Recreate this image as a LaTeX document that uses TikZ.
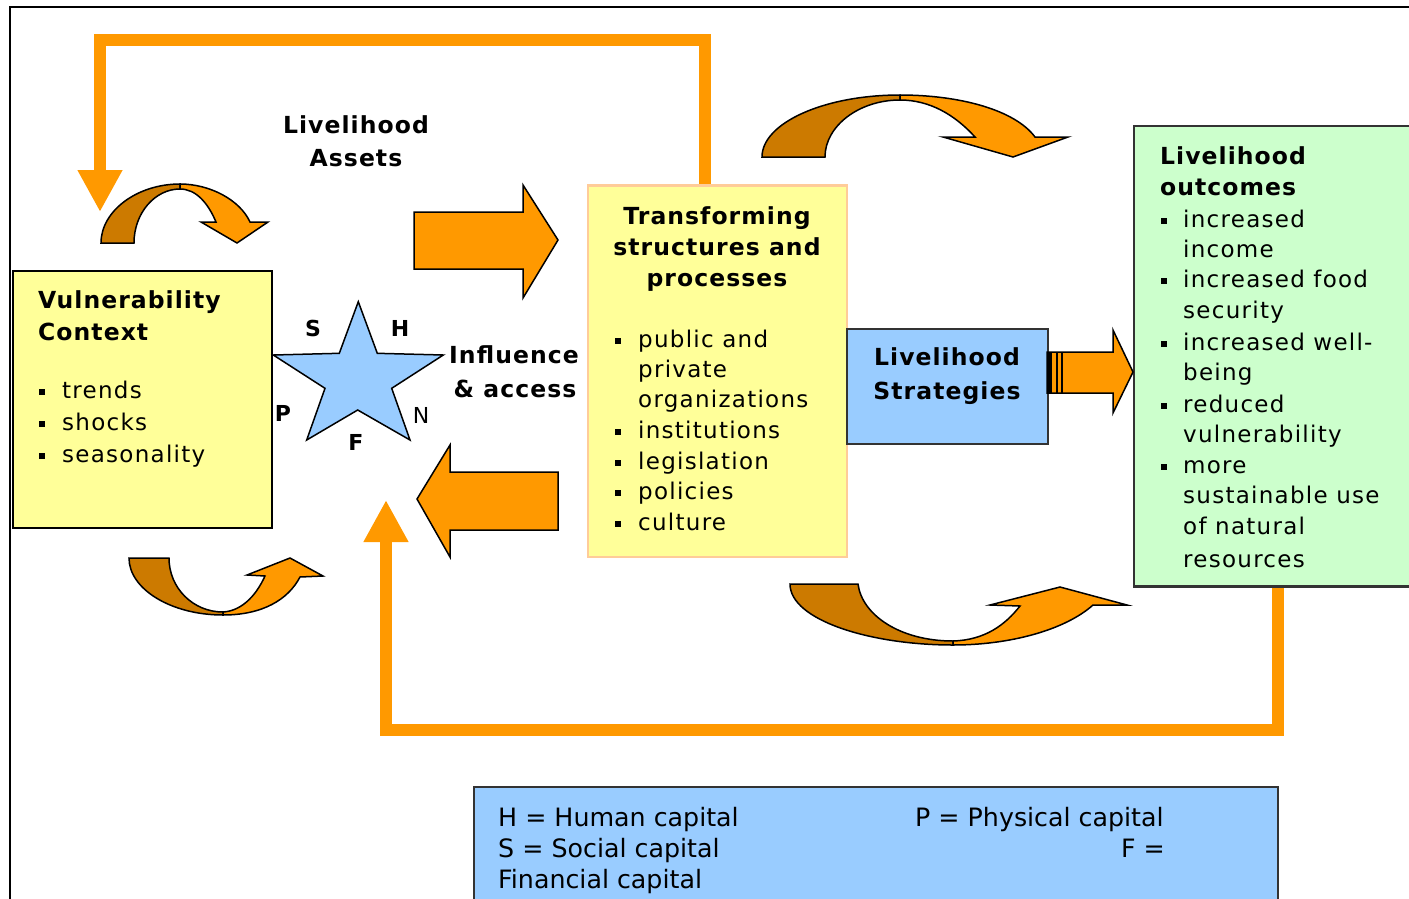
\documentclass[tikz,border=0pt]{standalone}
\usepackage{fontspec}
\setmainfont{DejaVu Sans}[LetterSpace=5.5,BoldFeatures={LetterSpace=4.5}]
\newfontfamily\legfont{DejaVu Sans}
\usetikzlibrary{arrows.meta}
\definecolor{org}{HTML}{FF9900}
\definecolor{dorg}{HTML}{CC7A00}
\definecolor{ylw}{HTML}{FFFF99}
\definecolor{lblue}{HTML}{99CCFF}
\definecolor{lgreen}{HTML}{CCFFCC}
\definecolor{peach}{HTML}{FFCC99}
\definecolor{edgec}{HTML}{333333}
\newcommand\bsq{\rule[3pt]{6pt}{6pt}}
\begin{document}
\begin{tikzpicture}[x=1pt,y=-1pt,
  box/.style={line width=2pt, inner sep=0pt, anchor=north west},
  t/.style={inner sep=0pt, anchor=base west, font=\fontsize{23}{28}\selectfont},
  tb/.style={inner sep=0pt, anchor=base west, font=\fontsize{23.5}{28}\selectfont\bfseries},
  tbc/.style={tb, anchor=base},
  lg/.style={inner sep=0pt, anchor=base west, font=\legfont\fontsize{25.3}{30}\selectfont},
  starlbl/.style={inner sep=0pt, font=\fontsize{22}{26}\selectfont\bfseries},
  bigarrow/.style={fill=org, draw=black, line width=1.5pt, line join=miter},
  curvdark/.style={fill=dorg, draw=black, line width=1.5pt, line join=miter},
  curvlight/.style={fill=org, draw=black, line width=1.5pt, line join=miter},
  loopline/.style={draw=org, line width=12pt, line join=miter, -{Triangle[length=42pt,width=42pt]}}
]
\useasboundingbox (0,0) rectangle (1409,898);
\fill[white] (0,0) rectangle (1409,898);
% frame
\draw[line width=2pt] (10,910) -- (10,7) -- (1420,7);

% boxes
\node[box, fill=ylw, draw=black, minimum width=259pt, minimum height=257pt] (vul) at (12,270) {};
\node[box, fill=ylw, draw=peach, minimum width=259pt, minimum height=371pt] (trans) at (587,185) {};
\node[box, fill=lgreen, draw=edgec, minimum width=300pt, minimum height=460pt] (outc) at (1133,125) {};
\node[box, fill=lblue, draw=edgec, minimum width=804pt, minimum height=140pt] (leg) at (473,786) {};

% loop lines
\coordinate (lt1) at (705,40);
\coordinate (lt2) at (100,40);
\coordinate (lt3) at (100,212);
\draw[loopline] (trans.north -| lt1) -- (lt1) -- (lt2) -- (lt3);
\coordinate (lb1) at (1278,730);
\coordinate (lb2) at (386,730);
\coordinate (lb3) at (386,500);
\draw[loopline] (outc.south -| lb1) -- (lb1) -- (lb2) -- (lb3);
% redraw box edges over the loop starts
\draw[peach, line width=2pt] (trans.north west) -- (trans.north east);
\draw[edgec, line width=2pt] (outc.south west) -- (outc.south east);

\node[box, fill=lblue, draw=edgec, minimum width=201pt, minimum height=115pt] (strat) at (846,328) {};

% big straight arrows
\draw[bigarrow] (414,212) -- (523,212) -- (523,185) -- (558,240) -- (523,298) -- (523,269) -- (414,269) -- cycle;
\draw[bigarrow] (558,472) -- (450,472) -- (450,445) -- (417,499) -- (450,557) -- (450,530) -- (558,530) -- cycle;
% strategies -> outcomes arrow
\draw[bigarrow] (1047,352) -- (1113,352) -- (1113,330) -- (1133,372) -- (1113,413) -- (1113,393) -- (1047,393) -- cycle;
\fill[black] (1048,352) rectangle (1052,393);
\fill[black] (1055.5,352) rectangle (1058,393);
\fill[black] (1060.5,352) rectangle (1063,393);

% star
\draw[fill=lblue, draw=black, line width=1.5pt, line join=miter]
  (358.3,301.7) -- (377.3,353.3) -- (443.3,355) -- (391.7,388.3) -- (410,440)
  -- (357.7,410) -- (306.7,440) -- (325,388.3) -- (273.3,355) -- (339.3,353.3) -- cycle;

% curved arrows: top-left
\draw[curvdark] (101,243) -- (134,243) .. controls (134,213) and (155,189) .. (180,189)
  -- (180,184) .. controls (137,184) and (101,211) .. (101,243) -- cycle;
\draw[curvlight] (180,184) .. controls (210,184) and (240,200) .. (250,222) -- (268,222)
  -- (237,243) -- (201,222) -- (216,222) .. controls (208,203) and (196,189) .. (180,189) -- cycle;
% top-right
\draw[curvdark] (762,157) -- (825,157) .. controls (825,126) and (859,100) .. (900,100)
  -- (900,95) .. controls (824,95) and (762,123) .. (762,157) -- cycle;
\draw[curvlight] (900,95) .. controls (960,95) and (1015,110) .. (1035,137) -- (1068,137)
  -- (1013,157) -- (943,137) -- (975,137) .. controls (955,115) and (930,100) .. (900,100) -- cycle;
% bottom-left
\draw[curvdark] (129,558) -- (169,558) .. controls (169,588) and (193,612) .. (223,612)
  -- (223,615) .. controls (171,615) and (129,589) .. (129,558) -- cycle;
\draw[curvlight] (223,615) .. controls (262,615) and (288,600) .. (300,577) -- (323,576)
  -- (290,558) -- (247,575) -- (265,576) .. controls (255,598) and (240,611) .. (223,612) -- cycle;
% bottom-right
\draw[curvdark] (790,584) -- (858,584) .. controls (862,615) and (900,641) .. (953,641)
  -- (953,645) .. controls (870,645) and (790,620) .. (790,584) -- cycle;
\draw[curvlight] (953,645) .. controls (1010,645) and (1065,630) .. (1093,605) -- (1127,605)
  -- (1060,587) -- (990,605) -- (1020,606) .. controls (1005,625) and (985,640) .. (953,641) -- cycle;

% texts
\node[tbc] (la1) at (356,133) {Livelihood};
\node[tbc] (la2) at (356,166) {Assets};

\node[tb] (vt1) at (38,308) {Vulnerability};
\node[tb] (vt2) at (38,340) {Context};
\node[t] (v1) at (39,398) {\makebox[23pt][l]{\bsq}trends};
\node[t] (v2) at (39,430) {\makebox[23pt][l]{\bsq}shocks};
\node[t] (v3) at (39,462) {\makebox[23pt][l]{\bsq}seasonality};

\node[starlbl] (sS) at (313,328) {S};
\node[starlbl] (sH) at (400,328) {H};
\node[starlbl] (sP) at (283,413) {P};
\node[inner sep=0pt, font=\fontsize{22}{26}\selectfont] (sN) at (421,415) {N};
\node[starlbl] (sF) at (356,442) {F};

\node[tbc] (inf1) at (514,363) {Influence};
\node[tbc] (inf2) at (515,397) {\&~access};

\node[tbc] (tt1) at (717,224) {Transforming};
\node[tbc] (tt2) at (717,255) {structures and};
\node[tbc] (tt3) at (717,286) {processes};
\node[t] (ti1) at (615,347) {\makebox[23pt][l]{\bsq}public and};
\node[t] (ti2) at (638,377) {private};
\node[t] (ti3) at (638,407) {organizations};
\node[t] (ti4) at (615,438) {\makebox[23pt][l]{\bsq}institutions};
\node[t] (ti5) at (615,469) {\makebox[23pt][l]{\bsq}legislation};
\node[t] (ti6) at (615,499) {\makebox[23pt][l]{\bsq}policies};
\node[t] (ti7) at (615,530) {\makebox[23pt][l]{\bsq}culture};

\node[tbc] (st1) at (947,365) {Livelihood};
\node[tbc] (st2) at (947,399) {Strategies};

\node[tb] (ot1) at (1160,164) {Livelihood};
\node[tb] (ot2) at (1160,195) {outcomes};
\node[t] (o1) at (1161,227) {\makebox[22pt][l]{\bsq}increased};
\node[t] (o2) at (1183,257) {income};
\node[t] (o3) at (1161,287) {\makebox[22pt][l]{\bsq}increased food};
\node[t] (o4) at (1183,318) {security};
\node[t] (o5) at (1161,350) {\makebox[22pt][l]{\bsq}increased well-};
\node[t] (o6) at (1183,380) {being};
\node[t] (o7) at (1161,412) {\makebox[22pt][l]{\bsq}reduced};
\node[t] (o8) at (1183,442) {vulnerability};
\node[t] (o9) at (1161,473) {\makebox[22pt][l]{\bsq}more};
\node[t] (o10) at (1183,503) {sustainable use};
\node[t] (o11) at (1183,534) {of natural};
\node[t] (o12) at (1183,567) {resources};

\node[lg] (g1) at (498,826) {H = Human capital};
\node[lg] (g2) at (915,826) {P = Physical capital};
\node[lg] (g3) at (498,857) {S = Social capital};
\node[lg, anchor=base east] (g4) at (1165,857) {F =};
\node[lg] (g5) at (498,888) {Financial capital};
\end{tikzpicture}
\end{document}
